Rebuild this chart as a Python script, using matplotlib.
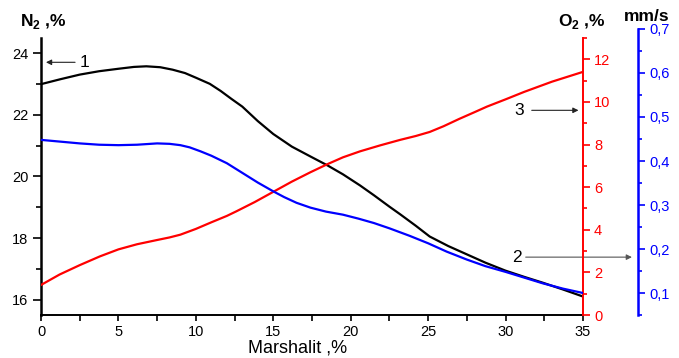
import matplotlib
matplotlib.use('Agg')
import matplotlib.pyplot as plt
from matplotlib.ticker import MultipleLocator, FuncFormatter

plt.rcParams['font.family'] = ['Liberation Sans', 'DejaVu Sans']
plt.rcParams['mathtext.fontset'] = 'custom'
plt.rcParams['mathtext.rm'] = 'Liberation Sans'
plt.rcParams['mathtext.bf'] = 'Liberation Sans:bold'

# curve 1: nitrogen, %
n2_x = [0, 1.25, 2.5, 3.75, 5, 6, 6.8, 7.7, 8.5, 9.3, 10, 10.9, 11.6, 12.3,
        13, 14, 15, 16.2, 17.4, 18.5, 19.5, 20.6, 21.5, 22.5, 23.2, 24.2,
        25.1, 26.3, 27.5, 28.7, 30, 31.2, 32.4, 33.7, 35]
n2_y = [23.00, 23.16, 23.31, 23.42, 23.50, 23.56, 23.58, 23.55, 23.47, 23.36,
        23.21, 23.01, 22.78, 22.52, 22.27, 21.80, 21.38, 20.97, 20.65, 20.36,
        20.07, 19.71, 19.39, 19.02, 18.77, 18.40, 18.05, 17.74, 17.47, 17.20,
        16.94, 16.74, 16.55, 16.33, 16.10]

# curve 2: velocity, mm/s
vel_x = [0, 1.25, 2.5, 3.75, 5, 6.2, 7.5, 8.3, 9, 9.6, 10.3, 11, 12, 13, 14,
         15, 15.7, 16.5, 17.4, 18.4, 19.5, 20.5, 21.5, 22.5, 23.8, 25, 26.2,
         27.5, 28.7, 30, 31.2, 32.4, 33.7, 35]
vel_y = [0.448, 0.444, 0.440, 0.437, 0.436, 0.437, 0.440, 0.439, 0.436, 0.431,
         0.422, 0.412, 0.395, 0.373, 0.351, 0.331, 0.318, 0.305, 0.294, 0.285,
         0.278, 0.269, 0.259, 0.247, 0.230, 0.213, 0.194, 0.176, 0.161, 0.148,
         0.135, 0.122, 0.110, 0.100]

# curve 3: oxygen, %
o2_x = [0, 1.2, 2.5, 3.8, 5, 6.2, 7.5, 8.3, 9, 10, 11, 12, 12.6, 13.8, 15,
        16.2, 17.4, 18.5, 19.5, 20.6, 21.9, 23.2, 24.2, 25.1, 26, 27, 28,
        28.8, 30, 31.2, 33, 35]
o2_y = [1.41, 1.90, 2.34, 2.75, 3.08, 3.32, 3.52, 3.64, 3.77, 4.04, 4.35, 4.65,
        4.86, 5.30, 5.78, 6.26, 6.70, 7.08, 7.40, 7.68, 7.96, 8.22, 8.40, 8.59,
        8.86, 9.20, 9.52, 9.78, 10.12, 10.47, 10.95, 11.41]

RED = '#ff0000'
BLUE = '#0000ff'

fig = plt.figure(figsize=(6.79, 3.58), dpi=100)
left, bottom, width, height = 0.0604, 0.1201, 0.7982, 0.7738
ax = fig.add_axes([left, bottom, width, height])
ax.plot(n2_x, n2_y, color='black', lw=1.6, zorder=3)
ax.set_xlim(0, 35)
ax.set_ylim(15.5, 24.5)
ax.spines['top'].set_visible(False)
ax.spines['right'].set_visible(False)
ax.spines['left'].set_linewidth(1.8)
ax.spines['bottom'].set_linewidth(1.4)
ax.xaxis.set_major_locator(MultipleLocator(5))
ax.xaxis.set_minor_locator(MultipleLocator(2.5))
ax.yaxis.set_major_locator(MultipleLocator(2))
ax.yaxis.set_minor_locator(MultipleLocator(1))
ax.tick_params(axis='x', which='both', direction='out', length=4, width=1.2,
               labelsize=10.5, pad=3)
ax.tick_params(axis='y', which='major', direction='out', length=6, width=1.2,
               labelsize=10.5, pad=3)
ax.tick_params(axis='y', which='minor', direction='out', length=3.5, width=1.2)
ax.set_xlabel('Marshalit ,%', fontsize=13)
ax.xaxis.set_label_coords(0.474, -0.09)

# oxygen axis on the right
ax_o2 = ax.twinx()
ax_o2.plot(o2_x, o2_y, color=RED, lw=1.6, zorder=3)
ax_o2.set_ylim(0, 13)
for s in ['top', 'left', 'bottom']:
    ax_o2.spines[s].set_visible(False)
ax_o2.spines['right'].set_color(RED)
ax_o2.spines['right'].set_linewidth(1.4)
ax_o2.yaxis.set_major_locator(MultipleLocator(2))
ax_o2.yaxis.set_minor_locator(MultipleLocator(1))
ax_o2.tick_params(axis='y', which='major', colors=RED, direction='out',
                  length=5, width=1.2, labelsize=10.5, pad=3)
ax_o2.tick_params(axis='y', which='minor', colors=RED, direction='out',
                  length=3, width=1.2)

# velocity axis, offset further right and a little taller
ax_v = fig.add_axes([left, bottom, width, 0.919 - bottom])
ax_v.patch.set_visible(False)
ax_v.plot(vel_x, vel_y, color=BLUE, lw=1.6, zorder=3)
ax_v.set_xlim(0, 35)
ax_v.set_ylim(0.05, 0.7)
ax_v.xaxis.set_visible(False)
for s in ['top', 'left', 'bottom']:
    ax_v.spines[s].set_visible(False)
ax_v.spines['right'].set_position(('outward', 39.5))
ax_v.spines['right'].set_color(BLUE)
ax_v.spines['right'].set_linewidth(1.8)
ax_v.yaxis.tick_right()
ax_v.yaxis.set_major_locator(MultipleLocator(0.1))
ax_v.yaxis.set_minor_locator(MultipleLocator(0.05))
ax_v.yaxis.set_major_formatter(FuncFormatter(lambda v, p: f'{v:.1f}'.replace('.', ',')))
ax_v.tick_params(axis='y', which='major', colors=BLUE, direction='out',
                 length=5, width=1.2, labelsize=10.5, pad=3)
ax_v.tick_params(axis='y', which='minor', colors=BLUE, direction='out',
                 length=3, width=1.2)

# axis titles above the plot
fig.text(0.0295, 0.928, r'N$_\mathbf{2}$ ,%', fontsize=12.5, fontweight='bold',
         va='baseline')
fig.text(0.8217, 0.928, r'O$_\mathbf{2}$ ,%', fontsize=12.5, fontweight='bold',
         va='baseline')
fig.text(0.919, 0.94, 'mm/s', fontsize=12.5, fontweight='bold', va='baseline')

# curve numbers with arrows
arrow = dict(arrowstyle='-|>', color='#222222', lw=0.8, mutation_scale=8,
             shrinkA=0, shrinkB=0)
ax.annotate('', xy=(0.32, 23.71), xytext=(2.2, 23.71), arrowprops=arrow,
            annotation_clip=False)
ax.text(2.84, 23.71, '1', fontsize=12.5, ha='center', va='center')
ax.annotate('', xy=(34.71, 22.15), xytext=(31.69, 22.15), arrowprops=arrow,
            annotation_clip=False)
ax.text(30.87, 22.15, '3', fontsize=12.5, ha='center', va='center')
ax.annotate('', xy=(38.16, 17.38), xytext=(31.3, 17.38),
            arrowprops=dict(arrow, color='#555555'), annotation_clip=False)
ax.text(30.75, 17.38, '2', fontsize=12.5, ha='center', va='center')

fig.savefig('out.png', dpi=100)
